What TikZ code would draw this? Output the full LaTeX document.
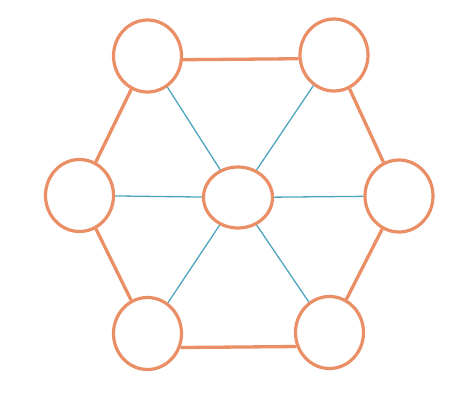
\documentclass[tikz,border=0pt]{standalone}
\usetikzlibrary{shapes.geometric}
\definecolor{edgeorange}{RGB}{234,142,102}
\definecolor{spokeblue}{RGB}{78,165,192}
\tikzset{
  vtx/.style={ellipse,draw=edgeorange,line width=3.2pt,minimum width=68pt,minimum height=72pt,inner sep=0pt},
  cvtx/.style={ellipse,draw=edgeorange,line width=3.2pt,minimum width=69pt,minimum height=61pt,inner sep=0pt},
  rim/.style={draw=edgeorange,line width=3.3pt},
  spoke/.style={draw=spokeblue,line width=1.3pt}
}
\begin{document}
\begin{tikzpicture}[x=1pt,y=-1pt]
\fill[white] (0,0) rectangle (453,416);
\useasboundingbox (0,0) rectangle (453,416);
\node[vtx] (TL) at (147.5,56) {};
\node[vtx] (TR) at (334,55) {};
\node[vtx] (L) at (79.5,195.5) {};
\node[cvtx] (C) at (238,197.5) {};
\node[vtx] (R) at (399,196) {};
\node[vtx] (BL) at (147.5,333.5) {};
\node[vtx] (BR) at (329.5,332.5) {};
\draw[spoke] (C) -- (TL);
\draw[spoke] (C) -- (TR);
\draw[spoke] (C) -- (L);
\draw[spoke] (C) -- (R);
\draw[spoke] (C) -- (BL);
\draw[spoke] (C) -- (BR);
\draw[rim] (TL.-6) -- (TR.186);
\draw[rim] (TR) -- (R);
\draw[rim] (R) -- (BR);
\draw[rim] (BR.203) -- (BL.-23);
\draw[rim] (BL) -- (L);
\draw[rim] (L) -- (TL);
\end{tikzpicture}
\end{document}
